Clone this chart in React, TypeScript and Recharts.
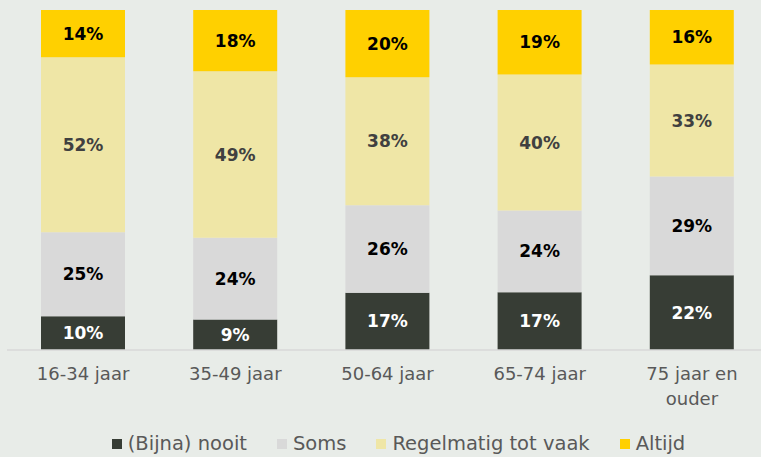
import React from "react";
import { BarChart, Bar, XAxis, YAxis, Legend, LabelList, Text } from "recharts";

// Leeftijdsgroepen en aandelen per antwoordcategorie (in %)
const categories = ["16-34 jaar", "35-49 jaar", "50-64 jaar", "65-74 jaar", "75 jaar en ouder"];
const nooit = [10, 9, 17, 17, 22];
const soms = [25, 24, 26, 24, 29];
const regelmatig = [52, 49, 38, 40, 33];
const altijd = [14, 18, 20, 19, 16];

const series = [
  { key: "nooit", name: "(Bijna) nooit", color: "#373d35", label: "#ffffff" },
  { key: "soms", name: "Soms", color: "#d9d9d9", label: "#000000" },
  { key: "regelmatig", name: "Regelmatig tot vaak", color: "#efe6a6", label: "#404040" },
  { key: "altijd", name: "Altijd", color: "#ffd000", label: "#000000" },
];

const data = categories.map((c, i) => ({
  name: c,
  nooit: nooit[i],
  soms: soms[i],
  regelmatig: regelmatig[i],
  altijd: altijd[i],
}));

const FONT = "'DejaVu Sans', sans-serif";

const AgeTick = (props: any) => {
  const { x, y, payload } = props;
  return (
    <Text
      x={x}
      y={y + 9}
      width={115}
      textAnchor="middle"
      verticalAnchor="start"
      lineHeight={25}
      fill="#595959"
      fontSize={18}
      fontFamily={FONT}
      style={{ fontFamily: FONT, fontSize: 18 }}
    >
      {payload.value}
    </Text>
  );
};

// legenda in vaste volgorde
const LegendContent = () => (
  <div style={{ display: "flex", justifyContent: "center", fontFamily: FONT, fontSize: 19.5, color: "#595959", marginLeft: 22 }}>
    {series.map((s) => (
      <div key={s.key} style={{ display: "flex", alignItems: "center", margin: "0 15px" }}>
        <span style={{ display: "inline-block", width: 10, height: 10, background: s.color, marginRight: 6 }} />
        <span>{s.name}</span>
      </div>
    ))}
  </div>
);

const App: React.FC = () => {
  return (
    <div style={{ position: "fixed", left: 0, top: 0, width: 761, height: 457, background: "#e8ece8", overflow: "hidden" }}>
      <BarChart
        width={780}
        height={457}
        data={data}
        stackOffset="expand"
        margin={{ top: 10, right: 12, left: 7, bottom: 2 }}
      >
        <XAxis
          dataKey="name"
          axisLine={{ stroke: "#d9d9d9", strokeWidth: 1.5 }}
          tickLine={false}
          tick={<AgeTick />}
          interval={0}
          height={82}
        />
        <YAxis hide domain={[0, 1]} />
        <Legend content={<LegendContent />} />
        {series.map((s) => (
          <Bar key={s.key} dataKey={s.key} name={s.name} stackId="a" fill={s.color} barSize={84} isAnimationActive={false}>
            <LabelList
              dataKey={s.key}
              position="center"
              formatter={(v: any) => `${v}%`}
              fill={s.label}
              fontSize={17}
              fontWeight="bold"
              fontFamily={FONT}
            />
          </Bar>
        ))}
      </BarChart>
    </div>
  );
};

export default App;
